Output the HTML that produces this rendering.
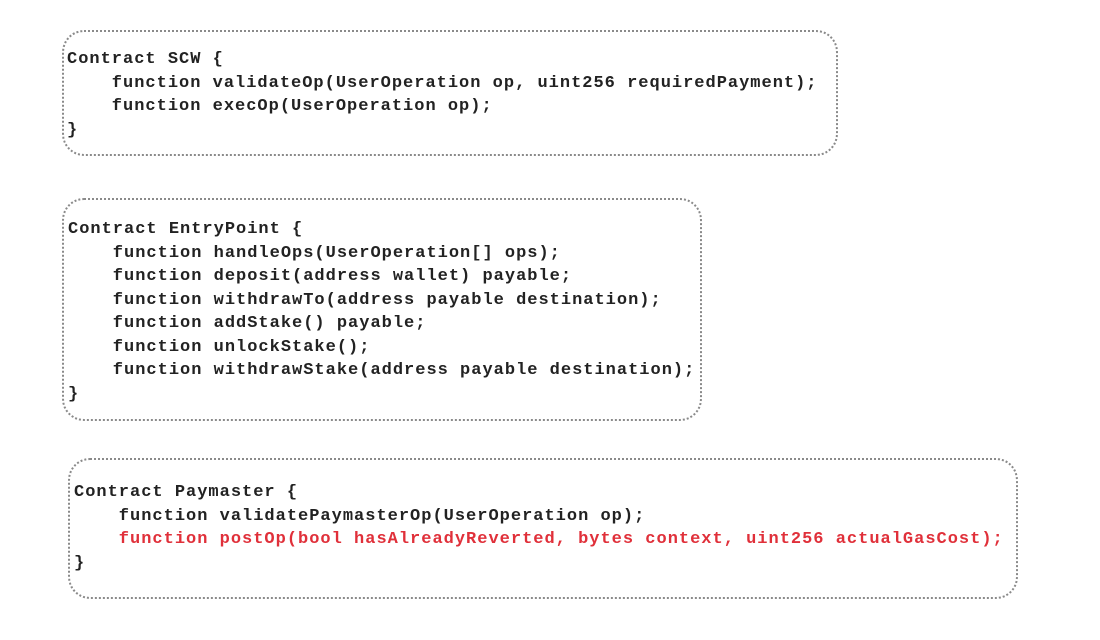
<!DOCTYPE html>
<html><head><style>
body{margin:0;width:1100px;height:640px;background:#fff;position:relative;overflow:hidden}
.box{position:absolute;border:2px dotted #8a8a8a;border-radius:22px;box-sizing:border-box}
pre{position:absolute;margin:0;font-family:"Liberation Mono",monospace;font-size:17px;letter-spacing:1.0px;line-height:23.5px;color:#222;font-weight:bold}
.r{color:#e0303a}
</style></head><body>
<div class="box" style="left:62px;top:30px;width:776px;height:126px"></div>
<pre style="left:67px;top:48px">Contract SCW {
    function validateOp(UserOperation op, uint256 requiredPayment);
    function execOp(UserOperation op);
}</pre>
<div class="box" style="left:62px;top:198px;width:640px;height:223px"></div>
<pre style="left:68px;top:218px">Contract EntryPoint {
    function handleOps(UserOperation[] ops);
    function deposit(address wallet) payable;
    function withdrawTo(address payable destination);
    function addStake() payable;
    function unlockStake();
    function withdrawStake(address payable destination);
}</pre>
<div class="box" style="left:68px;top:458px;width:950px;height:141px"></div>
<pre style="left:74px;top:481px">Contract Paymaster {
    function validatePaymasterOp(UserOperation op);
<span class="r">    function postOp(bool hasAlreadyReverted, bytes context, uint256 actualGasCost);</span>
}</pre>
</body></html>
